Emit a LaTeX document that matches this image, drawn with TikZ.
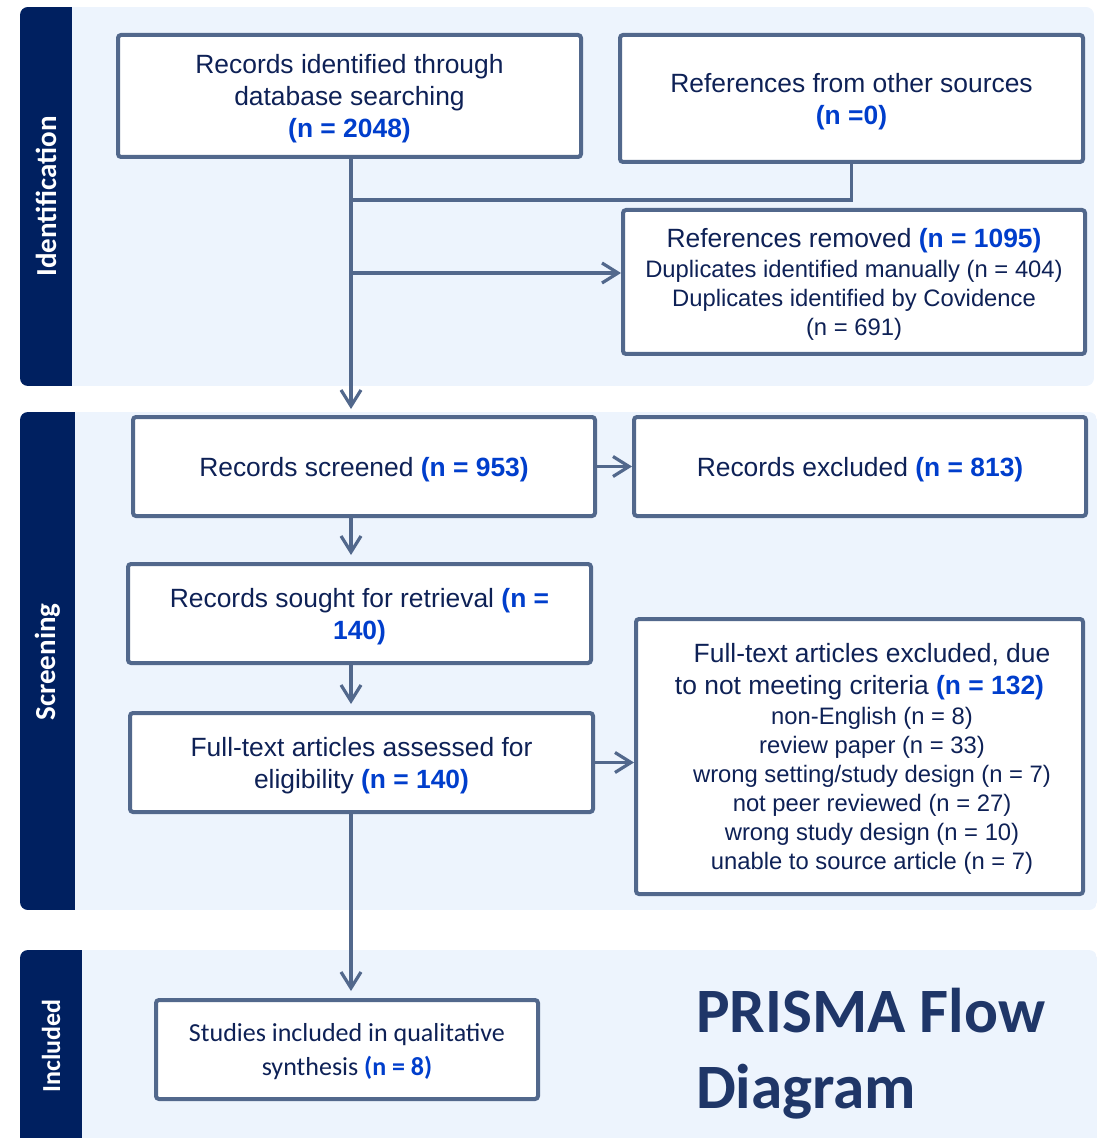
\documentclass[tikz,border=0pt]{standalone}
\usepackage{fontspec}
\setmainfont{Liberation Sans}
\newfontfamily\calfont{Carlito}
\usepackage{tikz}
\usetikzlibrary{
  arrows.meta,
  calc,
  positioning
}
\definecolor{bandnavy}{RGB}{0,32,96}
\definecolor{panelblue}{RGB}{237,244,253}
\definecolor{edgeslate}{RGB}{82,104,140}
\definecolor{inknavy}{RGB}{14,33,86}
\definecolor{countblue}{RGB}{0,62,204}
\definecolor{titlenavy}{RGB}{31,54,104}
\newcommand{\nval}[1]{\textcolor{countblue}{\bfseries #1}}
\newcommand{\subline}{\fontsize{11.9}{14.5}\selectfont}
\newcommand{\nudge}{\hspace*{12.5pt}}
\tikzset{
  stagebox/.style={draw=edgeslate,line width=2pt,fill=white,
    rounded corners=1.5pt,align=center,inner sep=0pt,text=inknavy,
    text depth=0pt,font=\fontsize{13.2}{16}\selectfont},
  bandlab/.style={rotate=90,text=white,
    font=\calfont\bfseries\fontsize{14.5}{17}\selectfont},
  link/.style={draw=edgeslate,line width=1.6pt},
  flow/.style={link,-{Straight Barb[length=8pt,width=10pt]}}
}

\begin{document}
\begin{tikzpicture}[x=0.5pt,y=-0.5pt]
  \path[use as bounding box] (0,0) rectangle (1107,1138);
  \clip (0,0) rectangle (1107,1138);

  % stage panels
  \begin{scope}
    \clip[rounded corners=4pt] (20,7) rectangle (1094,386);
    \fill[panelblue] (20,7) rectangle (1094,386);
    \fill[bandnavy] (20,7) rectangle (72,386);
  \end{scope}
  \begin{scope}
    \clip[rounded corners=4pt] (20,412) rectangle (1097,910);
    \fill[panelblue] (20,412) rectangle (1097,910);
    \fill[bandnavy] (20,412) rectangle (75,910);
  \end{scope}
  \begin{scope}
    \clip[rounded corners=4pt] (20,950) rectangle (1097,1170);
    \fill[panelblue] (20,950) rectangle (1097,1170);
    \fill[bandnavy] (20,950) rectangle (82,1170);
  \end{scope}
  \node[bandlab] (idlab) at (46,196.5) {Identification};
  \node[bandlab] (scrlab) at (47.5,662) {Screening};
  \node[bandlab,font=\calfont\bfseries\fontsize{13}{15}\selectfont]
    (inclab) at (51,1046) {Included};

  % boxes
  \node[stagebox,minimum width=231.5pt,minimum height=61pt] (A) at (349.5,96)
    {Records identified through\\ database searching\\ \nval{(n = 2048)}};
  \node[stagebox,minimum width=231.5pt,minimum height=63.5pt] (B) at (851.5,98.5)
    {References from other sources\\ \nval{(n =0)}};
  \node[stagebox,minimum width=231pt,minimum height=72pt] (C) at (854,282)
    {References removed \nval{(n = 1095)}\\[-1pt]
     \subline Duplicates identified manually (n = 404)\\[-1.5pt]
     \subline Duplicates identified by Covidence\\[-1.5pt]
     \subline (n = 691)};
  \node[stagebox,minimum width=231pt,minimum height=49.5pt] (D) at (364,466.5)
    {Records screened \nval{(n = 953)}};
  \node[stagebox,minimum width=226pt,minimum height=49.5pt] (E) at (860,466.5)
    {Records excluded \nval{(n = 813)}};
  \node[stagebox,minimum width=231.5pt,minimum height=49.5pt] (F) at (359.5,613.5)
    {Records sought for retrieval \nval{(n =}\\ \nval{140)}};
  \node[stagebox,minimum width=231.5pt,minimum height=49.5pt] (G) at (361.5,762.5)
    {Full-text articles assessed for\\ eligibility \nval{(n = 140)}};
  \node[stagebox,minimum width=223.5pt,minimum height=137.5pt] (H) at (859.5,756.5)
    {\nudge Full-text articles excluded, due\\
     to not meeting criteria \nval{(n = 132)}\\[-1pt]
     \subline\nudge non-English (n = 8)\\[-1.5pt]
     \subline\nudge review paper (n = 33)\\[-1.5pt]
     \subline\nudge wrong setting/study design (n = 7)\\[-1.5pt]
     \subline\nudge not peer reviewed (n = 27)\\[-1.5pt]
     \subline\nudge wrong study design (n = 10)\\[-1.5pt]
     \subline\nudge unable to source article (n = 7)};
  \node[stagebox,minimum width=191pt,minimum height=49.5pt,
    font=\calfont\fontsize{13}{17}\selectfont] (I) at (347,1049.5)
    {Studies included in qualitative\\ synthesis \nval{(n = 8)}};

  \node[anchor=west,align=left,text=titlenavy,
    font=\calfont\bfseries\fontsize{31.6}{38}\selectfont] (title) at (689,1054)
    {PRISMA Flow\\Diagram};

  % connectors
  \coordinate (spine) at (351,0);
  \coordinate (mrg) at (351,200);
  \coordinate (split) at (351,273);
  \coordinate (scrtop) at (351,409);

  \draw[flow] (A.south -| spine) -- (scrtop);
  \draw[link] (B.south) |- (mrg);
  \draw[flow] (split) -- (split -| C.west);
  \draw[flow] (D.east) -- (E.west);
  \draw[flow,shorten >=3.5pt] (D.south -| spine) -- (F.north -| spine);
  \draw[flow,shorten >=3.5pt] (F.south -| spine) -- (G.north -| spine);
  \draw[flow] (G.east) -- (G.east -| H.west);
  \draw[flow,shorten >=3.5pt] (G.south -| spine) -- (I.north -| spine);
\end{tikzpicture}
\end{document}
